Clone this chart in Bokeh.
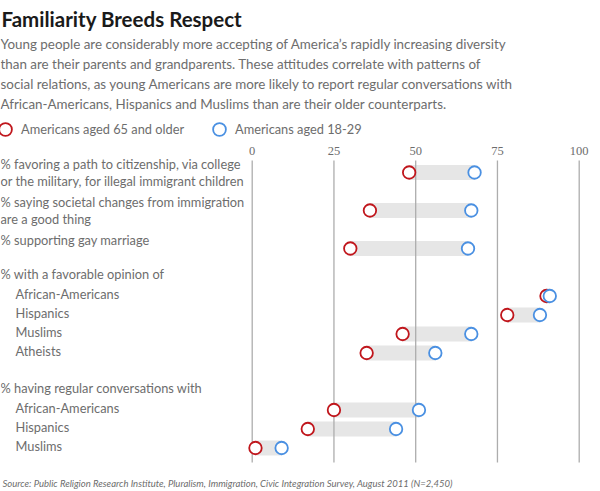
from bokeh.plotting import figure
from bokeh.models import Range1d, Label, Legend, LegendItem
from bokeh.embed import file_html
from bokeh.resources import INLINE

# ---------------- data ----------------
title_text = "Familiarity Breeds Respect"
subtitle_lines = [
    "Young people are considerably more accepting of America\u2019s rapidly increasing diversity",
    "than are their parents and grandparents. These attitudes correlate with patterns of",
    "social relations, as young Americans are more likely to report regular conversations with",
    "African-Americans, Hispanics and Muslims than are their older counterparts.",
]
legend_labels = ["Americans aged 65 and older", "Americans aged 18-29"]
tick_values = [0, 25, 50, 75, 100]

attitude_labels = [
    ["% favoring a path to citizenship, via college",
     "or the military, for illegal immigrant children"],
    ["% saying societal changes from immigration",
     "are a good thing"],
    ["% supporting gay marriage"],
]
attitude_old = [48, 36, 30]
attitude_young = [68, 67, 66]

favorable_header = "% with a favorable opinion of"
favorable_labels = ["African-Americans", "Hispanics", "Muslims", "Atheists"]
favorable_old = [90, 78, 46, 35]
favorable_young = [91, 88, 67, 56]

conversation_header = "% having regular conversations with"
conversation_labels = ["African-Americans", "Hispanics", "Muslims"]
conversation_old = [25, 17, 1]
conversation_young = [51, 44, 9]

source_text = ("Source: Public Religion Research Institute, Pluralism, Immigration, "
               "Civic Integration Survey,  August 2011 (N=2,450)")

# ---------------- styles ----------------
RED = "#c0161c"
BLUE = "#4a90e2"
BAR = "#e6e6e6"
GRID = "#adadad"
TEXT = "#6d6d6d"
FONT = "Lato"

W, H = 600, 491
ROW_PX = 19.0          # pixels per row slot
ROW0_PX = 172.0        # canvas y of first row

# ---------------- row layout (slot units, top to bottom) ----------------
row_y, row_old, row_young = [], [], []
label_specs = []   # (text, slot, indent, y_offset)
cursor = 0.0
for lines, o, yv in zip(attitude_labels, attitude_old, attitude_young):
    row_y.append(cursor); row_old.append(o); row_young.append(yv)
    for i, line in enumerate(lines):
        label_specs.append((line, cursor, 0, 8.5 - 17 * i))
    cursor += 2
for header, labs, olds, youngs in [
    (favorable_header, favorable_labels, favorable_old, favorable_young),
    (conversation_header, conversation_labels, conversation_old, conversation_young),
]:
    label_specs.append((header, cursor - 0.5, 0, 3))
    for k, (lab, o, yv) in enumerate(zip(labs, olds, youngs)):
        y = cursor + 0.5 + k
        row_y.append(y); row_old.append(o); row_young.append(yv)
        label_specs.append((lab, y, 15, 2))
    cursor += len(labs) + 2


def slot(cy):
    """canvas pixel y -> row slot units"""
    return (cy - ROW0_PX) / ROW_PX


grid_top = min(row_y) - 12 / ROW_PX
grid_bottom = max(row_y) + 14.5 / ROW_PX
tick_label_y = grid_top - 10 / ROW_PX

X0_PX, X_SCALE = 251.7, 3.27   # canvas x of value 0, pixels per percentage point
p = figure(width=W, height=H,
           x_range=Range1d(-X0_PX / X_SCALE, (W - X0_PX) / X_SCALE),
           y_range=Range1d(slot(H), slot(0)),
           output_backend="svg", toolbar_location=None,
           x_axis_location=None, y_axis_location=None,
           min_border=0, outline_line_color=None, background_fill_color="white")
p.xgrid.visible = False
p.ygrid.visible = False

# vertical reference lines at the tick values, spanning the rows
p.segment(x0=tick_values, x1=tick_values, y0=[grid_top] * len(tick_values),
          y1=[grid_bottom] * len(tick_values), line_color=GRID, line_width=1.3,
          level="underlay")
p.text(x=tick_values, y=[tick_label_y] * len(tick_values), text=[str(t) for t in tick_values],
       text_font=FONT, text_font_size="12.5px", text_color=TEXT,
       text_align="center", text_baseline="alphabetic")

p.hbar(y=row_y, left=row_old, right=row_young, height=15 / ROW_PX,
       fill_color=BAR, line_color=None, level="image")
r_old = p.scatter(x=row_old, y=row_y, size=12.5, marker="circle",
                  fill_color="white", line_color=RED, line_width=1.8)
r_young = p.scatter(x=row_young, y=row_y, size=12.5, marker="circle",
                    fill_color="white", line_color=BLUE, line_width=1.8)


def canvas_label(cx, cy, text, **kw):
    return Label(x=cx, y=slot(cy), x_units="screen", y_units="data", text=text, **kw)


p.add_layout(canvas_label(1, 18, title_text, text_font=FONT, text_font_style="bold",
                          text_font_size="20.5px", text_color="#1a1a1a",
                          text_baseline="alphabetic"))
for i, line in enumerate(subtitle_lines):
    p.add_layout(canvas_label(0, 43.5 + 20 * i, line, text_font=FONT,
                              text_font_size="13.4px", text_color=TEXT,
                              text_baseline="alphabetic"))

for text, s, indent, off in label_specs:
    p.add_layout(Label(x=indent, y=s, x_units="screen", y_units="data",
                       text=text, text_font=FONT, text_font_size="12.8px",
                       text_color=TEXT, text_baseline="middle", y_offset=off))

p.add_layout(canvas_label(2, 482.5, source_text, text_font=FONT, text_font_style="italic",
                          text_font_size="9.5px", text_color=TEXT,
                          text_baseline="alphabetic"))

GB = 32
LEGEND_CY = 128.5
for lab, rend, cx in [(legend_labels[0], r_old, 5), (legend_labels[1], r_young, 219)]:
    leg = Legend(items=[LegendItem(label=lab, renderers=[rend])],
                 orientation="horizontal",
                 location=(cx - GB / 2, H - (LEGEND_CY + GB / 2)),
                 padding=0, margin=0, spacing=0, glyph_width=GB, glyph_height=GB,
                 label_standoff=0, border_line_color=None, background_fill_alpha=0,
                 label_text_font=FONT, label_text_font_size="12.8px",
                 label_text_color=TEXT)
    p.add_layout(leg)

open("out.html", "w").write(file_html(p, INLINE))
